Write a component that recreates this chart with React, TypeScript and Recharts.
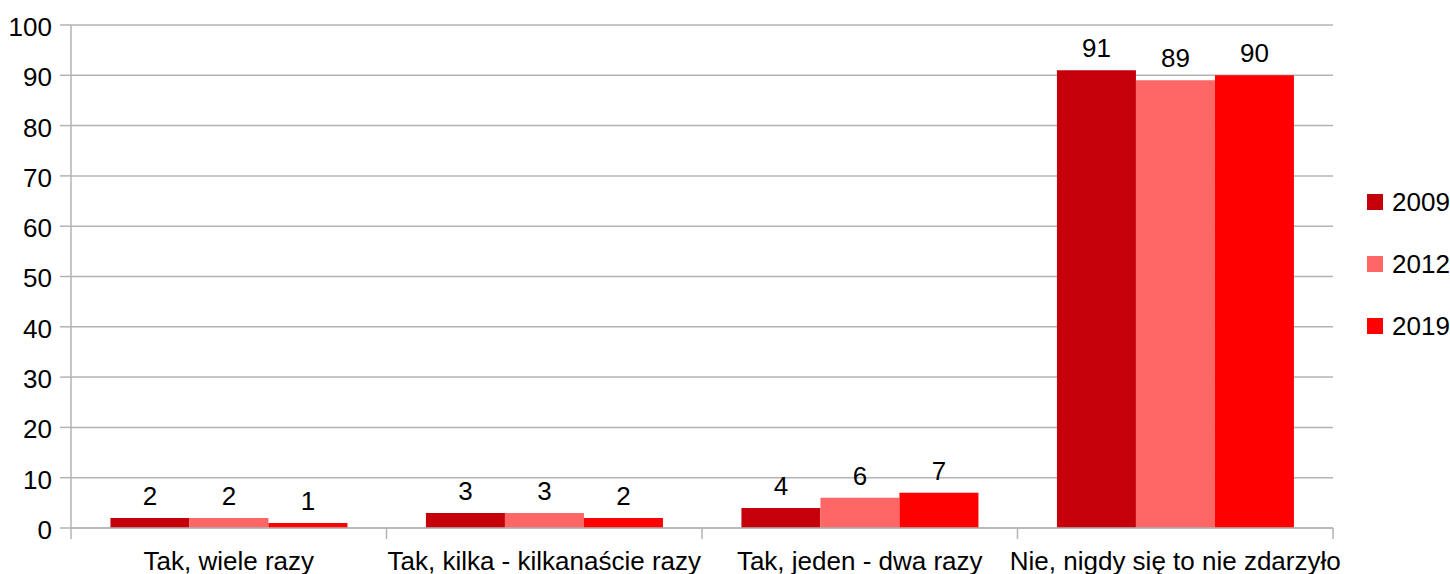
import React from 'react';
import { BarChart, Bar, XAxis, YAxis, CartesianGrid, Legend, LabelList } from 'recharts';

const categories = [
  'Tak, wiele razy',
  'Tak, kilka - kilkanaście razy',
  'Tak, jeden - dwa razy',
  'Nie, nigdy się to nie zdarzyło',
];
const values2009 = [2, 3, 4, 91];
const values2012 = [2, 3, 6, 89];
const values2019 = [1, 2, 7, 90];
const yTicks = [0, 10, 20, 30, 40, 50, 60, 70, 80, 90, 100];

const seriesList = [
  { key: 'y2009', name: '2009', color: '#c5000b', values: values2009 },
  { key: 'y2012', name: '2012', color: '#ff6666', values: values2012 },
  { key: 'y2019', name: '2019', color: '#ff0000', values: values2019 },
];

const data = categories.map((name, i) => ({
  name,
  y2009: values2009[i],
  y2012: values2012[i],
  y2019: values2019[i],
}));

const W = 1450;
const H = 574;
const Y_AXIS_W = 71;
const LEGEND_W = 117;
const X_AXIS_H = 46;
const TICK_SIZE = 11;
const X_TICK_MARGIN = 13;
const FONT = '"Liberation Sans", Arial, sans-serif';
const FONT_SIZE = 26;
const GRID = '#b3b3b3';

const band = (W - Y_AXIS_W - LEGEND_W) / categories.length;

// boundary tick marks between categories, like the office chart does
function CategoryTick(props: any) {
  const { x, y, payload, index } = props;
  const axisY = y - X_TICK_MARGIN - TICK_SIZE;
  return (
    <g>
      <line x1={x - band / 2} x2={x - band / 2} y1={axisY} y2={axisY + TICK_SIZE} stroke={GRID} strokeWidth={1.5} />
      {index === categories.length - 1 && (
        <line x1={x + band / 2} x2={x + band / 2} y1={axisY} y2={axisY + TICK_SIZE} stroke={GRID} strokeWidth={1.5} />
      )}
      <text x={x} y={y} dy="0.71em" textAnchor="middle" fontFamily={FONT} fontSize={FONT_SIZE} fill="#000">
        {payload.value}
      </text>
    </g>
  );
}

function ValueTick(props: any) {
  const { x, y, payload } = props;
  return (
    <text x={x} y={y} dy="0.42em" textAnchor="end" fontFamily={FONT} fontSize={FONT_SIZE} fill="#000">
      {payload.value}
    </text>
  );
}

function LegendBox() {
  return (
    <div style={{ width: LEGEND_W, height: 186, position: 'relative', fontFamily: FONT, fontSize: FONT_SIZE }}>
      {seriesList.map((s, i) => (
        <div
          key={s.key}
          style={{ position: 'absolute', left: 34, top: i * 62, height: 62, display: 'flex', alignItems: 'center' }}
        >
          <div style={{ width: 16, height: 16, background: s.color, marginRight: 9 }} />
          <span style={{ color: '#000', lineHeight: 1 }}>{s.name}</span>
        </div>
      ))}
    </div>
  );
}

export default function App() {
  return (
    <div style={{ position: 'absolute', left: 0, top: 0, width: W, height: H, background: '#fff' }}>
      <BarChart
        width={W}
        height={H}
        data={data}
        margin={{ top: 25, right: 0, bottom: 0, left: 0 }}
        barCategoryGap="12.5%"
        barGap={0}
      >
        <CartesianGrid horizontal vertical={false} stroke={GRID} strokeWidth={1.5} />
        <XAxis
          dataKey="name"
          height={X_AXIS_H}
          interval={0}
          tickSize={TICK_SIZE}
          tickMargin={X_TICK_MARGIN}
          tickLine={false}
          axisLine={{ stroke: GRID, strokeWidth: 1.5 }}
          tick={<CategoryTick />}
        />
        <YAxis
          width={Y_AXIS_W}
          domain={[0, 100]}
          ticks={yTicks}
          interval={0}
          tickSize={TICK_SIZE}
          tickMargin={8}
          tickLine={{ stroke: GRID, strokeWidth: 1.5 }}
          axisLine={{ stroke: GRID, strokeWidth: 1.5 }}
          tick={<ValueTick />}
        />
        <YAxis
          yAxisId="border"
          orientation="right"
          width={0}
          domain={[0, 100]}
          tick={false}
          tickLine={false}
          axisLine={{ stroke: GRID, strokeWidth: 1.5 }}
        />
        <Legend
          layout="vertical"
          align="right"
          verticalAlign="middle"
          content={<LegendBox />}
          wrapperStyle={{ width: LEGEND_W, right: 0, top: 171 }}
        />
        {seriesList.map((s) => (
          <Bar key={s.key} dataKey={s.key} name={s.name} fill={s.color} isAnimationActive={false}>
            <LabelList
              dataKey={s.key}
              position="top"
              offset={13}
              fontFamily={FONT}
              fontSize={FONT_SIZE}
              fill="#000"
            />
          </Bar>
        ))}
      </BarChart>
    </div>
  );
}
